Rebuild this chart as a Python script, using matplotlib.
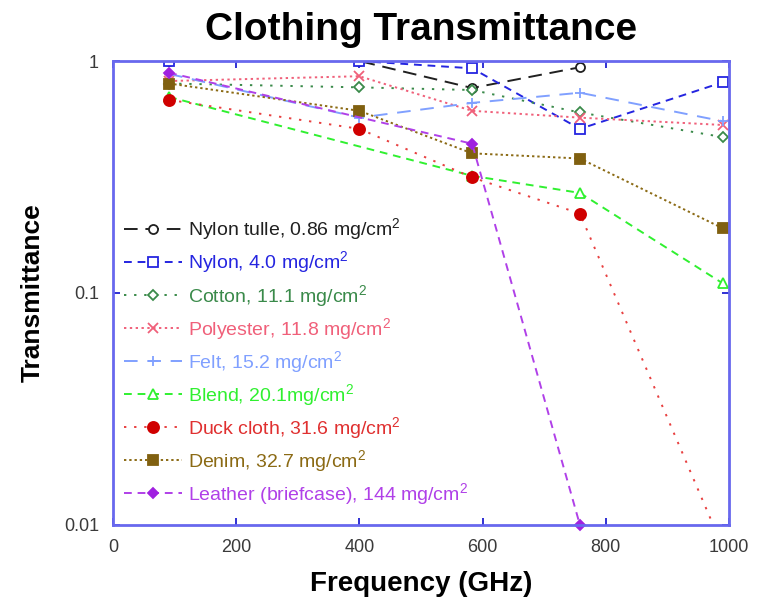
import matplotlib
matplotlib.use("Agg")
import matplotlib.pyplot as plt
from matplotlib.ticker import FixedLocator, FixedFormatter, NullLocator

plt.rcParams["font.family"] = ["Liberation Sans", "DejaVu Sans"]
plt.rcParams["mathtext.default"] = "regular"

# Measured frequencies (GHz)
freq = [91, 400, 583, 758, 990]

# Transmittance for each fabric
nylon_tulle = [1.0, 1.0, 0.765, 0.94]
nylon = [1.0, 1.0, 0.93, 0.51, 0.81]
cotton = [0.80, 0.77, 0.75, 0.60, 0.47]
polyester = [0.82, 0.86, 0.61, 0.57, 0.53]
felt = [0.88, 0.57, 0.66, 0.73, 0.55]
blend_freq = [91, 583, 758, 990]
blend = [0.70, 0.32, 0.27, 0.11]
duck_cloth = [0.68, 0.51, 0.315, 0.22, 0.008]
denim = [0.80, 0.61, 0.40, 0.38, 0.19]
leather_freq = [91, 583, 758]
leather = [0.89, 0.44, 0.01]

y_ticks = [0.01, 0.1, 1]
y_tick_labels = ["0.01", "0.1", "1"]
x_ticks = [0, 200, 400, 600, 800, 1000]

fig = plt.figure(figsize=(7.6, 6.03), dpi=100)
ax = fig.add_axes([0.1487, 0.1294, 0.8105, 0.7694])

series = [
    # x, y, label, line colour, text colour, marker, filled, dashes
    (freq[:4], nylon_tulle, "Nylon tulle, 0.86 mg/cm$^2$", "#202020", "#202020", "o", False, (7, 4)),
    (freq, nylon, "Nylon, 4.0 mg/cm$^2$", "#2525e0", "#2525e0", "s", False, (4, 3)),
    (freq, cotton, "Cotton, 11.1 mg/cm$^2$", "#3a8a4a", "#3a8a4a", "D", False, (1.2, 4)),
    (freq, polyester, "Polyester, 11.8 mg/cm$^2$", "#f0607a", "#f0607a", "x", False, (1.2, 1.8)),
    (freq, felt, "Felt, 15.2 mg/cm$^2$", "#80a0ff", "#80a0ff", "+", False, (7, 5)),
    (blend_freq, blend, "Blend, 20.1mg/cm$^2$", "#30f030", "#30f030", "^", False, (4, 3)),
    (freq, duck_cloth, "Duck cloth, 31.6 mg/cm$^2$", "#e84040", "#e03030", "o", True, (1.2, 4)),
    (freq, denim, "Denim, 32.7 mg/cm$^2$", "#8b6a14", "#8b6a14", "s", True, (1.2, 1.5)),
    (leather_freq, leather, "Leather (briefcase), 144 mg/cm$^2$", "#b040e8", "#b040e8", "D", True, (4, 3)),
]

marker_fill = {"Duck cloth": "#d00000", "Denim": "#806010", "Leather": "#a020e0"}

for x, y, label, color, tcolor, marker, filled, dashes in series:
    name = label.split(",")[0].split(" (")[0]
    ms = 6.5
    if marker == "D":
        ms = 5.5
    if marker == "o" and filled:
        ms = 8
    if marker == "s" and filled:
        ms = 7.5
    face = marker_fill.get(name, color) if filled else "white"
    ax.plot(x, y, color=color, linewidth=1.4, dashes=dashes,
            marker=marker, markersize=ms, markerfacecolor=face,
            markeredgecolor=marker_fill.get(name, color),
            markeredgewidth=1.3, label=label,
            clip_on=(name != "Leather"))

ax.set_yscale("log")
ax.set_xlim(0, 1000)
ax.set_ylim(0.01, 1)
ax.yaxis.set_major_locator(FixedLocator(y_ticks))
ax.yaxis.set_major_formatter(FixedFormatter(y_tick_labels))
ax.yaxis.set_minor_locator(NullLocator())
ax.set_xticks(x_ticks)

for side in ax.spines.values():
    side.set_color("#6868ee")
    side.set_linewidth(2)

ax.tick_params(which="major", direction="in", top=True, right=True,
               length=5, width=1.3, color="#2020d0",
               labelsize=13, labelcolor="#3a3a3a", pad=10)

ax.set_title("Clothing Transmittance", fontsize=28, fontweight="bold", pad=15)
ax.set_xlabel("Frequency (GHz)", fontsize=20, fontweight="bold", labelpad=11)
ax.set_ylabel("Transmittance", fontsize=19, fontweight="bold", labelpad=14)

leg = ax.legend(loc="upper left", bbox_to_anchor=(0.018, 0.665), frameon=False,
                fontsize=14, handlelength=3.0, handletextpad=0.3,
                labelspacing=0.37, borderpad=0, borderaxespad=0)
for text, s in zip(leg.get_texts(), series):
    text.set_color(s[4])

fig.savefig("out.png", dpi=100)
